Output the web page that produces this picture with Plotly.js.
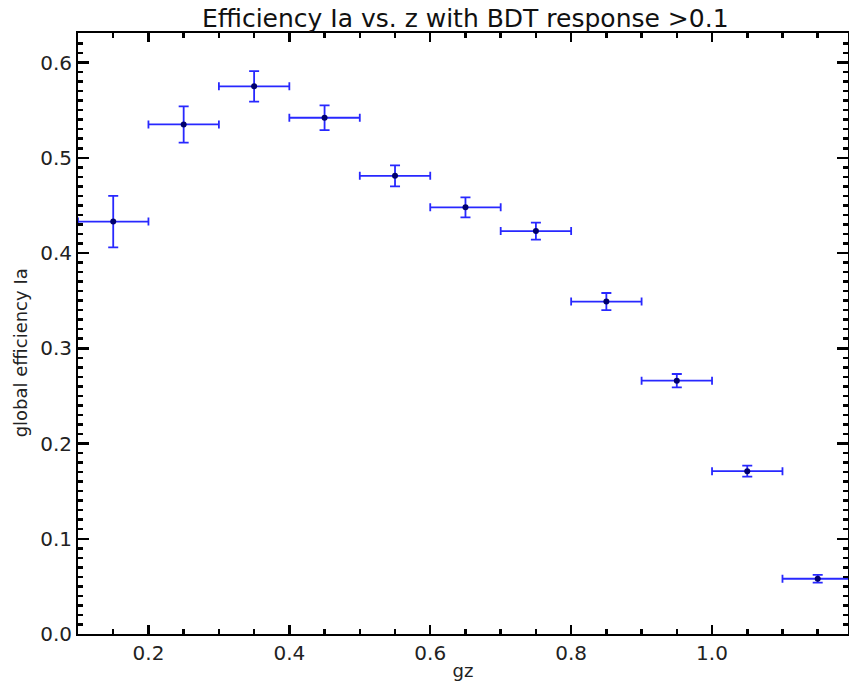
<!DOCTYPE html>
<html>
<head>
<meta charset="utf-8">
<script src="https://cdn.plot.ly/plotly-3.0.1.min.js"></script>
<style>html,body{margin:0;padding:0;background:#fff;}#chart{width:849px;height:683px;}</style>
</head>
<body>
<div id="chart"></div>
<script>
const zCenters = [0.15, 0.25, 0.35, 0.45, 0.55, 0.65, 0.75, 0.85, 0.95, 1.05, 1.15];
const binHalfWidth = [0.05, 0.05, 0.05, 0.05, 0.05, 0.05, 0.05, 0.05, 0.05, 0.05, 0.05];
const efficiency = [0.433, 0.535, 0.575, 0.542, 0.481, 0.448, 0.423, 0.349, 0.266, 0.171, 0.058];
const effError = [0.027, 0.019, 0.016, 0.013, 0.011, 0.0105, 0.009, 0.009, 0.007, 0.0058, 0.004];
const xTickVals = [0.2, 0.4, 0.6, 0.8, 1.0];
const xTickText = ["0.2", "0.4", "0.6", "0.8", "1.0"];
const yTickVals = [0.0, 0.1, 0.2, 0.3, 0.4, 0.5, 0.6];
const yTickText = ["0.0", "0.1", "0.2", "0.3", "0.4", "0.5", "0.6"];

const font = "DejaVu Sans, sans-serif";
const trace = {
  x: zCenters, y: efficiency, type: 'scatter', mode: 'markers',
  marker: {color: '#00006e', size: 6},
  error_x: {type: 'data', array: binHalfWidth, visible: true, color: '#2828ff', thickness: 1.8, width: 4},
  error_y: {type: 'data', array: effError, visible: true, color: '#2828ff', thickness: 1.8, width: 5},
  showlegend: false, cliponaxis: true
};
const layout = {
  width: 849, height: 683,
  margin: {l: 78, r: 1, t: 33, b: 49},
  paper_bgcolor: '#fff', plot_bgcolor: '#fff',
  title: {text: 'Efficiency Ia vs. z with BDT response >0.1', font: {family: font, size: 25, color: '#111'}, x: 0.548, xanchor: 'center', y: 0.974, yanchor: 'middle'},
  xaxis: {
    range: [0.1, 1.193], showgrid: false, zeroline: false,
    tickvals: xTickVals, ticktext: xTickText, ticks: 'inside', ticklen: 9, tickwidth: 2.5, tickcolor: '#000',
    minor: {dtick: 0.05, tick0: 0, ticks: 'inside', ticklen: 5, tickwidth: 2.5, tickcolor: '#000', showgrid: false},
    showline: true, linecolor: '#000', linewidth: 2, mirror: 'ticks',
    tickfont: {family: font, size: 20, color: '#222'},
    title: {text: 'gz', font: {family: font, size: 18, color: '#222'}, standoff: 0}
  },
  yaxis: {
    range: [0, 0.631], showgrid: false, zeroline: false,
    tickvals: yTickVals, ticktext: yTickText, ticks: 'inside', ticklen: 11, tickwidth: 2.5, tickcolor: '#000',
    minor: {dtick: 0.01, tick0: 0, ticks: 'inside', ticklen: 5, tickwidth: 2.5, tickcolor: '#000', showgrid: false},
    showline: true, linecolor: '#000', linewidth: 2, mirror: 'ticks',
    tickfont: {family: font, size: 20, color: '#222'}
  },
  annotations: [{
    text: 'global efficiency Ia', xref: 'paper', yref: 'paper', x: -0.0753, y: 0.467,
    xanchor: 'center', yanchor: 'middle', textangle: -90, showarrow: false,
    font: {family: font, size: 18, color: '#222'}
  }]
};
Plotly.newPlot('chart', [trace], layout, {displayModeBar: false, staticPlot: true});
</script>
</body>
</html>
